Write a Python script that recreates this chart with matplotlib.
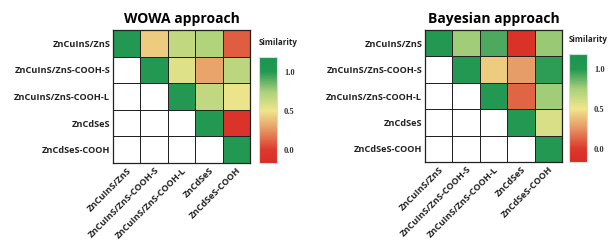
import numpy as np
import matplotlib
matplotlib.use('Agg')
import matplotlib.pyplot as plt
from matplotlib.colors import LinearSegmentedColormap

labels = ['ZnCuInS/ZnS', 'ZnCuInS/ZnS-COOH-S', 'ZnCuInS/ZnS-COOH-L', 'ZnCdSeS', 'ZnCdSeS-COOH']

# upper triangle only, nan = blank cell
wowa = [[1.0, 0.42, 0.66, 0.72, 0.10],
        [np.nan, 1.0, 0.56, 0.30, 0.68],
        [np.nan, np.nan, 1.0, 0.66, 0.52],
        [np.nan, np.nan, np.nan, 1.0, -0.08],
        [np.nan, np.nan, np.nan, np.nan, 1.0]]

bayes = [[1.0, 0.76, 0.92, -0.10, 0.78],
         [np.nan, 1.0, 0.42, 0.28, 0.98],
         [np.nan, np.nan, 1.0, 0.12, 0.76],
         [np.nan, np.nan, np.nan, 1.0, 0.58],
         [np.nan, np.nan, np.nan, np.nan, 1.0]]

vmin, vmax = -0.17, 1.19


def pos(v):
    return (v - vmin) / (vmax - vmin)


cmap = LinearSegmentedColormap.from_list('sim', [
    (0.0, '#d92b26'), (pos(0.0), '#dc3a2c'), (pos(0.25), '#e69462'),
    (pos(0.5), '#f0e68c'), (pos(0.75), '#a9d07a'), (pos(1.0), '#239852'),
    (1.0, '#1a9450')])
cmap.set_bad('white')

plt.rcParams['font.family'] = ['Open Sans', 'DejaVu Sans']

fig = plt.figure(figsize=(6.09, 2.47), dpi=100)


def draw(data, title, hm_box, cb_box):
    ax = fig.add_axes(hm_box)
    arr = np.ma.masked_invalid(np.array(data))
    mesh = ax.pcolormesh(arr, cmap=cmap, vmin=vmin, vmax=vmax,
                         edgecolors='#222222', linewidth=0.7)
    ax.set_xlim(0, 5)
    ax.set_ylim(5, 0)
    ax.set_xticks(np.arange(5) + 0.5)
    ax.set_yticks(np.arange(5) + 0.5)
    ax.set_xticklabels(labels, rotation=45, ha='right', rotation_mode='anchor',
                       fontsize=6.6, fontweight='bold', color='#222222')
    ax.set_yticklabels(labels, fontsize=6.6, fontweight='bold', color='#222222')
    ax.tick_params(length=0, pad=2)
    for s in ax.spines.values():
        s.set_linewidth(0.9)
        s.set_color('#222222')
    ax.set_title(title, fontsize=10, fontweight='bold', pad=5)

    cax = fig.add_axes(cb_box)
    cb = fig.colorbar(mesh, cax=cax, ticks=[0.0, 0.5, 1.0])
    cb.ax.set_yticklabels(['0.0', '0.5', '1.0'], fontsize=6,
                          family='Liberation Serif', fontweight='bold', color='#333333')
    cb.ax.tick_params(length=0, pad=5)
    cb.outline.set_edgecolor('#cfe3d0')
    cb.outline.set_linewidth(0.8)
    cax.text(0.0, 1.09, 'Similarity', transform=cax.transAxes, fontsize=5.8,
             fontweight='bold', ha='left', va='bottom', color='#222222')


draw(wowa, 'WOWA approach',
     [113 / 609, 84 / 247, 137 / 609, 133 / 247],
     [259 / 609, 84 / 247, 18 / 609, 106 / 247])
draw(bayes, 'Bayesian approach',
     [425 / 609, 85 / 247, 137 / 609, 132 / 247],
     [569 / 609, 85 / 247, 18 / 609, 108 / 247])

fig.savefig('out.png', dpi=100, facecolor='white')
